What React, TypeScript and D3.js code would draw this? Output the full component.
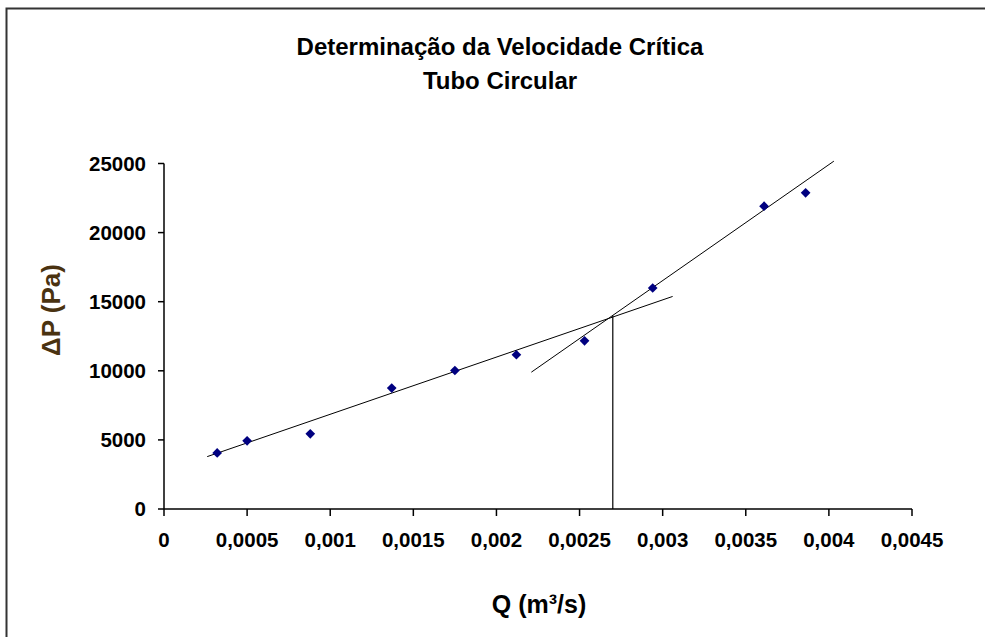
import React from "react";
import * as d3 from "d3";

const qValues = [0.00032, 0.0005, 0.00088, 0.00137, 0.00175, 0.00212, 0.00253, 0.00294, 0.00361, 0.00386];
const dpValues = [4060, 4930, 5440, 8750, 10020, 11160, 12170, 15990, 21910, 22880];

const laminarLine = [
  { q: 0.00026, dp: 3790 },
  { q: 0.00306, dp: 15380 },
];
const turbulentLine = [
  { q: 0.00221, dp: 9900 },
  { q: 0.00403, dp: 25170 },
];
const criticalPoint = { q: 0.0027, dp: 14000 };

const xTicks = [0, 0.0005, 0.001, 0.0015, 0.002, 0.0025, 0.003, 0.0035, 0.004, 0.0045];
const xTickLabels = ["0", "0,0005", "0,001", "0,0015", "0,002", "0,0025", "0,003", "0,0035", "0,004", "0,0045"];
const yTicks = [0, 5000, 10000, 15000, 20000, 25000];
const yTickLabels = ["0", "5000", "10000", "15000", "20000", "25000"];

const titleLines = ["Determinação da Velocidade Crítica", "Tubo Circular"];
const xTitle = "Q (m³/s)";
const yTitle = "ΔP (Pa)";

export default function App() {
  const W = 985;
  const H = 637;
  const x = d3.scaleLinear().domain([0, 0.0045]).range([164, 912]);
  const y = d3.scaleLinear().domain([0, 25000]).range([509, 163.5]);
  const line = d3
    .line<{ q: number; dp: number }>()
    .x((d) => x(d.q))
    .y((d) => y(d.dp));
  const diamond = d3.symbol().type(d3.symbolDiamond2).size(60)() as string;
  const font = "'Liberation Sans', Arial, sans-serif";

  return (
    <svg
      width={W}
      height={H}
      style={{ position: "fixed", left: 0, top: 0, background: "#fff" }}
      fontFamily={font}
    >
      <rect x={0} y={0} width={W} height={H} fill="#fff" />
      <rect x={6.5} y={8.5} width={W + 20} height={H + 20} fill="none" stroke="#333" strokeWidth={2} />

      {titleLines.map((t, i) => (
        <text key={i} x={500} y={55 + i * 34} textAnchor="middle" fontWeight="bold" fontSize={24} fill="#000">
          {t}
        </text>
      ))}

      {/* axes */}
      <line x1={x(0)} x2={x(0.0045)} y1={y(0)} y2={y(0)} stroke="#000" strokeWidth={1.5} />
      <line x1={x(0)} x2={x(0)} y1={y(0)} y2={y(25000)} stroke="#000" strokeWidth={1.5} />
      {xTicks.map((v, i) => (
        <g key={i}>
          <line x1={x(v)} x2={x(v)} y1={y(0)} y2={y(0) + 7} stroke="#000" strokeWidth={1.5} />
          <text x={x(v)} y={547} textAnchor="middle" fontWeight="bold" fontSize={20.5} fill="#000">
            {xTickLabels[i]}
          </text>
        </g>
      ))}
      {yTicks.map((v, i) => (
        <g key={i}>
          <line x1={x(0) - 6} x2={x(0)} y1={y(v)} y2={y(v)} stroke="#000" strokeWidth={1.5} />
          <text x={146} y={y(v)} dy="0.35em" textAnchor="end" fontWeight="bold" fontSize={20.5} fill="#000">
            {yTickLabels[i]}
          </text>
        </g>
      ))}

      {/* trend lines */}
      <path d={line(laminarLine) as string} fill="none" stroke="#000" strokeWidth={1} />
      <path d={line(turbulentLine) as string} fill="none" stroke="#000" strokeWidth={1} />
      <line
        x1={x(criticalPoint.q)}
        x2={x(criticalPoint.q)}
        y1={y(0)}
        y2={y(criticalPoint.dp)}
        stroke="#000"
        strokeWidth={1.2}
      />

      {/* points */}
      {qValues.map((q, i) => (
        <path key={i} d={diamond} transform={`translate(${x(q)},${y(dpValues[i])})`} fill="#000080" />
      ))}

      <text x={539} y={613} textAnchor="middle" fontWeight="bold" fontSize={25} fill="#000">
        {xTitle}
      </text>
      <text
        transform={`translate(60,310) rotate(-90)`}
        textAnchor="middle"
        fontWeight="bold"
        fontSize={26}
        fill="#4a3210"
      >
        {yTitle}
      </text>
    </svg>
  );
}
